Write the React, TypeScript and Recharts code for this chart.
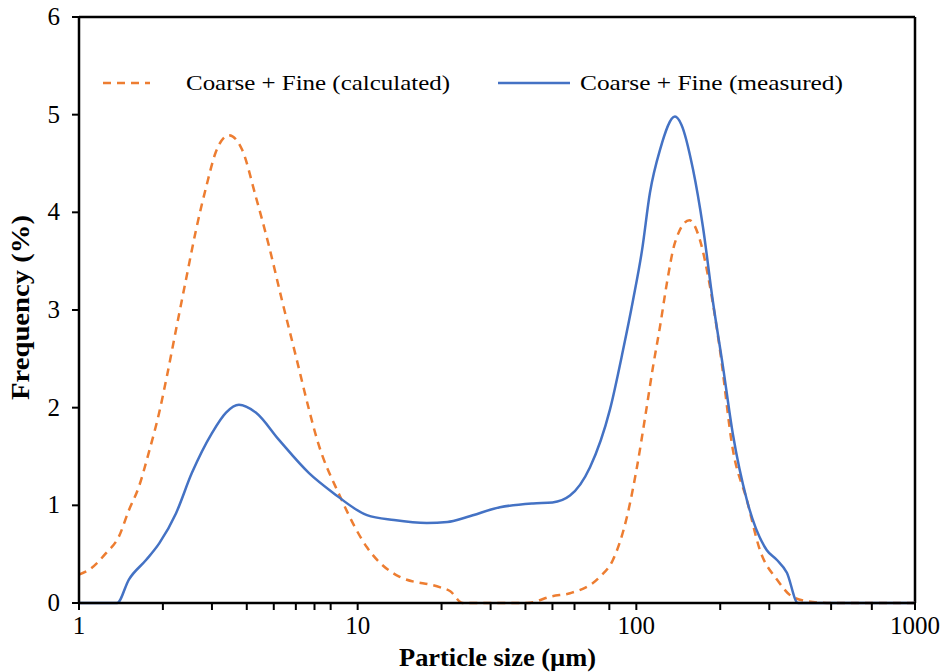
import React from "react";
import { LineChart, Line, XAxis, YAxis, ReferenceLine } from "recharts";

const measuredSize = [1, 1.2, 1.37, 1.51, 1.74, 1.94, 2.23, 2.54, 3.0, 3.37, 3.75, 4.31, 5.22, 6.69, 8.15, 10.8, 13.5, 17.7, 21, 24.7, 32.4, 42.6, 50, 57.8, 68.2, 80.4, 89.6, 97.3, 104.8, 111.9, 121.6, 137.6, 145, 159.7, 173.4, 188, 204.6, 222, 249.5, 294, 319.6, 347, 380, 500, 1000];
const measuredFreq = [0, 0, 0, 0.24, 0.44, 0.61, 0.92, 1.33, 1.74, 1.95, 2.03, 1.95, 1.67, 1.33, 1.13, 0.9, 0.85, 0.82, 0.83, 0.88, 0.98, 1.02, 1.03, 1.1, 1.39, 1.98, 2.59, 3.1, 3.61, 4.2, 4.64, 4.98, 4.9, 4.44, 3.85, 3.1, 2.42, 1.73, 1.05, 0.54, 0.44, 0.31, 0, 0, 0];

const calcSize = [1, 1.086, 1.25, 1.39, 1.51, 1.64, 1.78, 1.94, 2.07, 2.23, 2.42, 2.63, 2.86, 3.1, 3.45, 3.85, 4.31, 4.81, 5.35, 6.01, 6.69, 7.14, 8.65, 10.8, 14.1, 19.8, 21.5, 23.8, 30, 40.5, 50, 57.8, 74.1, 82.4, 92.5, 100.5, 107.5, 114.8, 121.6, 128.8, 137.6, 155, 169, 183.8, 199.6, 222, 249.5, 277.8, 319.6, 365, 430, 500, 1000];
const calcFreq = [0.29, 0.34, 0.51, 0.68, 0.95, 1.19, 1.54, 1.95, 2.33, 2.8, 3.31, 3.82, 4.26, 4.62, 4.79, 4.64, 4.16, 3.65, 3.1, 2.52, 1.98, 1.68, 1.09, 0.57, 0.27, 0.16, 0.12, 0, 0, 0, 0.07, 0.1, 0.27, 0.44, 0.88, 1.39, 1.9, 2.42, 2.83, 3.28, 3.69, 3.92, 3.72, 3.24, 2.59, 1.57, 1.05, 0.54, 0.24, 0.06, 0.01, 0, 0];

const xTicks = [1, 2, 3, 4, 5, 6, 7, 8, 9, 10, 20, 30, 40, 50, 60, 70, 80, 90, 100, 200, 300, 400, 500, 600, 700, 800, 900, 1000];
const xMajor = [1, 10, 100, 1000];
const yTicks = [0, 1, 2, 3, 4, 5, 6];

const seriesNames = ["Coarse + Fine (calculated)", "Coarse + Fine (measured)"];
const xTitle = "Particle size (µm)";
const yTitle = "Frequency (%)";

const measuredData = measuredSize.map((x, i) => ({ x, y: measuredFreq[i] }));
const calcData = calcSize.map((x, i) => ({ x, y: calcFreq[i] }));

const ORANGE = "#ED7D31";
const BLUE = "#4472C4";
const SERIF = "'Liberation Serif', 'DejaVu Serif', serif";

const XTick = (props: any) => {
  const { x, y, payload } = props;
  if (!xMajor.includes(payload.value)) return null;
  return (
    <text x={x} y={y + 22} textAnchor="middle" fontFamily={SERIF} fontSize={25} fill="#000">
      {payload.value}
    </text>
  );
};

const YTick = (props: any) => {
  const { x, y, payload } = props;
  return (
    <text x={x - 10} y={y + 8} textAnchor="end" fontFamily={SERIF} fontSize={25} fill="#000">
      {payload.value}
    </text>
  );
};

export default function App() {
  return (
    <div style={{ position: "absolute", left: 0, top: 0, width: 946, height: 672, background: "#fff" }}>
      <LineChart width={946} height={672} margin={{ top: 17, right: 31, bottom: 0, left: 0 }}>
        <XAxis
          type="number"
          dataKey="x"
          scale="log"
          domain={[1, 1000]}
          ticks={xTicks}
          allowDataOverflow
          tick={<XTick />}
          tickSize={7}
          tickLine={{ stroke: "#000", strokeWidth: 2 }}
          axisLine={{ stroke: "#000", strokeWidth: 2.5 }}
          height={69}
        />
        <YAxis
          type="number"
          dataKey="y"
          domain={[0, 6]}
          ticks={yTicks}
          tick={<YTick />}
          tickSize={7}
          tickLine={{ stroke: "#000", strokeWidth: 2 }}
          axisLine={{ stroke: "#000", strokeWidth: 2.5 }}
          width={79}
        />
        <ReferenceLine y={6} stroke="#000" strokeWidth={2.5} />
        <ReferenceLine x={1000} stroke="#000" strokeWidth={2.5} />
        <Line
          data={calcData}
          dataKey="y"
          type="monotone"
          stroke={ORANGE}
          strokeWidth={2.5}
          strokeDasharray="8 6"
          dot={false}
          isAnimationActive={false}
        />
        <Line
          data={measuredData}
          dataKey="y"
          type="monotone"
          stroke={BLUE}
          strokeWidth={2.5}
          dot={false}
          isAnimationActive={false}
        />
      </LineChart>
      <svg width={946} height={672} style={{ position: "absolute", left: 0, top: 0, pointerEvents: "none" }}>
        <line x1={103} y1={83} x2={150} y2={83} stroke={ORANGE} strokeWidth={2.5} strokeDasharray="8 6" />
        <text x={186} y={90} fontFamily={SERIF} fontSize={22} textLength={264} lengthAdjust="spacingAndGlyphs" fill="#000">
          {seriesNames[0]}
        </text>
        <line x1={498} y1={83} x2={570} y2={83} stroke={BLUE} strokeWidth={2.5} />
        <text x={580} y={90} fontFamily={SERIF} fontSize={22} textLength={263} lengthAdjust="spacingAndGlyphs" fill="#000">
          {seriesNames[1]}
        </text>
        <text x={399} y={666} fontFamily={SERIF} fontWeight="bold" fontSize={25} textLength={197} lengthAdjust="spacingAndGlyphs" fill="#000">
          {xTitle}
        </text>
        <text
          x={0}
          y={0}
          transform="translate(29,400) rotate(-90)"
          fontFamily={SERIF}
          fontWeight="bold"
          fontSize={25}
          textLength={185}
          lengthAdjust="spacingAndGlyphs"
          fill="#000"
        >
          {yTitle}
        </text>
      </svg>
    </div>
  );
}
